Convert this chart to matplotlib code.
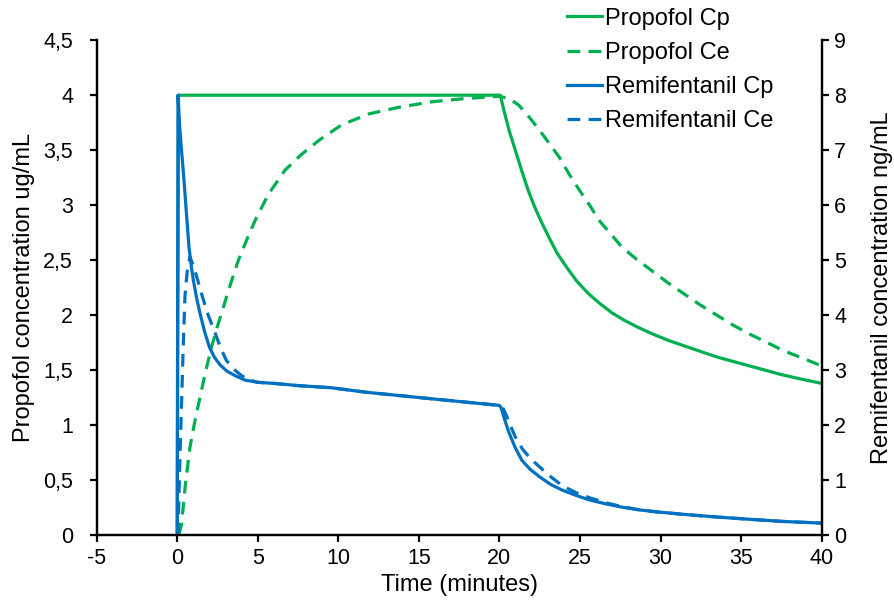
import matplotlib
matplotlib.use("Agg")
import matplotlib.pyplot as plt
from matplotlib.ticker import FuncFormatter

plt.rcParams['font.family'] = ['Liberation Sans', 'DejaVu Sans']
plt.rcParams['axes.unicode_minus'] = False

# propofol (ug/mL, left axis)
prop_cp_t = [0, 0.08, 20.05, 20.3, 20.6, 20.9, 21.2, 21.5, 21.8, 22.2, 22.6, 23.1, 23.6, 24.2, 24.8, 25.5,
             26.2, 27.0, 27.8, 28.6, 29.5, 30.5, 31.5, 32.5, 33.5, 34.5, 35.5, 36.5, 37.5, 38.7, 40.0]
prop_cp = [0, 4.0, 4.0, 3.85, 3.68, 3.54, 3.40, 3.26, 3.13, 2.98, 2.85, 2.70, 2.56, 2.43, 2.31, 2.20,
           2.11, 2.02, 1.95, 1.89, 1.83, 1.77, 1.72, 1.67, 1.62, 1.58, 1.54, 1.50, 1.46, 1.42, 1.38]

prop_ce_t = [0.1, 0.27, 0.5, 0.79, 1.1, 1.41, 1.75, 2.13, 2.5, 2.86, 3.3, 3.8, 4.3, 4.83, 5.66, 6.7,
             7.7, 8.8, 10.2, 11.9, 13.75, 15.8, 17.9, 20.0, 20.6, 21.2, 21.8, 22.5, 23.1, 23.7, 24.3,
             24.95, 25.6, 26.2, 26.9, 27.6, 28.5, 29.5, 30.5, 31.5, 32.5, 33.5, 34.5, 35.5, 36.5, 37.6,
             38.8, 40.0]
prop_ce = [0, 0.1, 0.45, 0.8, 1.04, 1.25, 1.48, 1.71, 1.9, 2.07, 2.28, 2.5, 2.68, 2.86, 3.1, 3.32,
           3.46, 3.59, 3.73, 3.83, 3.89, 3.94, 3.97, 3.99, 3.97, 3.91, 3.81, 3.68, 3.56, 3.44, 3.29,
           3.14, 3.0, 2.86, 2.74, 2.62, 2.51, 2.40, 2.29, 2.19, 2.09, 2.00, 1.91, 1.83, 1.76, 1.68,
           1.61, 1.54]

# remifentanil (ng/mL, right axis)
remi_cp_t = [0, 0.05, 0.15, 0.25, 0.42, 0.57, 0.73, 0.87, 1.0, 1.2, 1.41, 1.7, 2.0, 2.3, 2.65, 3.1,
             3.6, 4.2, 5.0, 6.0, 7.5, 9.6, 11.7, 13.75, 15.8, 17.9, 20.0, 20.1, 20.35, 20.6, 21.0,
             21.4, 21.9, 22.5, 23.2, 23.9, 24.7, 25.6, 26.6, 27.6, 28.7, 29.9, 31.4, 33.5, 35.5, 37.6,
             40.0]
remi_cp = [0, 8.0, 7.44, 7.06, 6.46, 5.86, 5.24, 4.9, 4.64, 4.32, 4.04, 3.70, 3.42, 3.24, 3.10, 2.98,
           2.90, 2.82, 2.78, 2.76, 2.72, 2.68, 2.60, 2.54, 2.48, 2.42, 2.36, 2.32, 2.08, 1.86, 1.58,
           1.36, 1.20, 1.06, 0.92, 0.82, 0.73, 0.64, 0.57, 0.51, 0.46, 0.42, 0.38, 0.33, 0.29, 0.25,
           0.22]

remi_ce_t = [0.05, 0.15, 0.25, 0.37, 0.48, 0.62, 0.79, 1.0, 1.25, 1.5, 1.9, 2.35, 2.7, 3.05, 3.5, 4.0,
             4.5, 5.0, 6.0, 7.5, 9.6, 11.7, 13.75, 15.8, 17.9, 20.0, 20.2, 20.4, 20.7, 21.0, 21.4,
             21.9, 22.5, 23.2, 23.9, 24.7, 25.6, 26.6, 27.6, 28.7, 29.9, 31.4, 33.5, 35.5, 37.6, 40.0]
remi_ce = [0, 1.2, 2.2, 3.4, 4.34, 4.8, 5.06, 4.9, 4.66, 4.4, 4.02, 3.68, 3.4, 3.18, 3.02, 2.9,
           2.82, 2.78, 2.76, 2.72, 2.68, 2.60, 2.54, 2.48, 2.42, 2.36, 2.32, 2.2, 1.98, 1.78, 1.58,
           1.40, 1.24, 1.06, 0.90, 0.78, 0.68, 0.59, 0.52, 0.46, 0.42, 0.38, 0.33, 0.29, 0.25, 0.22]

green = '#00B050'
blue = '#0070C0'
lw = 2.3

fig = plt.figure(figsize=(8.95, 6.0), dpi=100)
ax = fig.add_axes([0.108, 0.108, 0.81, 0.825])
ax2 = ax.twinx()

l1, = ax.plot(prop_cp_t, prop_cp, color=green, lw=lw, label='Propofol Cp')
l2, = ax.plot(prop_ce_t, prop_ce, color=green, lw=lw, dashes=(4, 2.6), label='Propofol Ce')
l3, = ax2.plot(remi_cp_t, remi_cp, color=blue, lw=lw, label='Remifentanil Cp')
l4, = ax2.plot(remi_ce_t, remi_ce, color=blue, lw=lw, dashes=(4, 2.6), label='Remifentanil Ce')

ax.set_xlim(-5, 40)
ax.set_ylim(0, 4.5)
ax2.set_ylim(0, 9)
ax.set_xticks(range(-5, 41, 5))
ax.set_yticks([i * 0.5 for i in range(10)])
ax2.set_yticks(range(0, 10))
ax.yaxis.set_major_formatter(FuncFormatter(lambda v, p: ('%g' % v).replace('.', ',')))

for a in (ax, ax2):
    for s in a.spines.values():
        s.set_linewidth(1.6)
    a.spines['top'].set_visible(False)
    a.tick_params(direction='out', length=5, width=1.6, labelsize=15.5)
ax.tick_params(axis='y', pad=12)
ax.tick_params(axis='x', pad=4)
ax2.tick_params(axis='y', pad=4)

ax.set_xlabel('Time (minutes)', fontsize=17, labelpad=4)
ax.set_ylabel('Propofol concentration ug/mL', fontsize=17, labelpad=6)
ax2.set_ylabel('Remifentanil concentration ng/mL', fontsize=17, labelpad=18)

fig.legend(handles=[l1, l2, l3, l4], loc='upper left', bbox_to_anchor=(0.623, 1.003),
           frameon=False, fontsize=17, handlelength=1.5, handletextpad=0.1,
           labelspacing=0.52, borderaxespad=0)

fig.savefig('out.png', dpi=100)
